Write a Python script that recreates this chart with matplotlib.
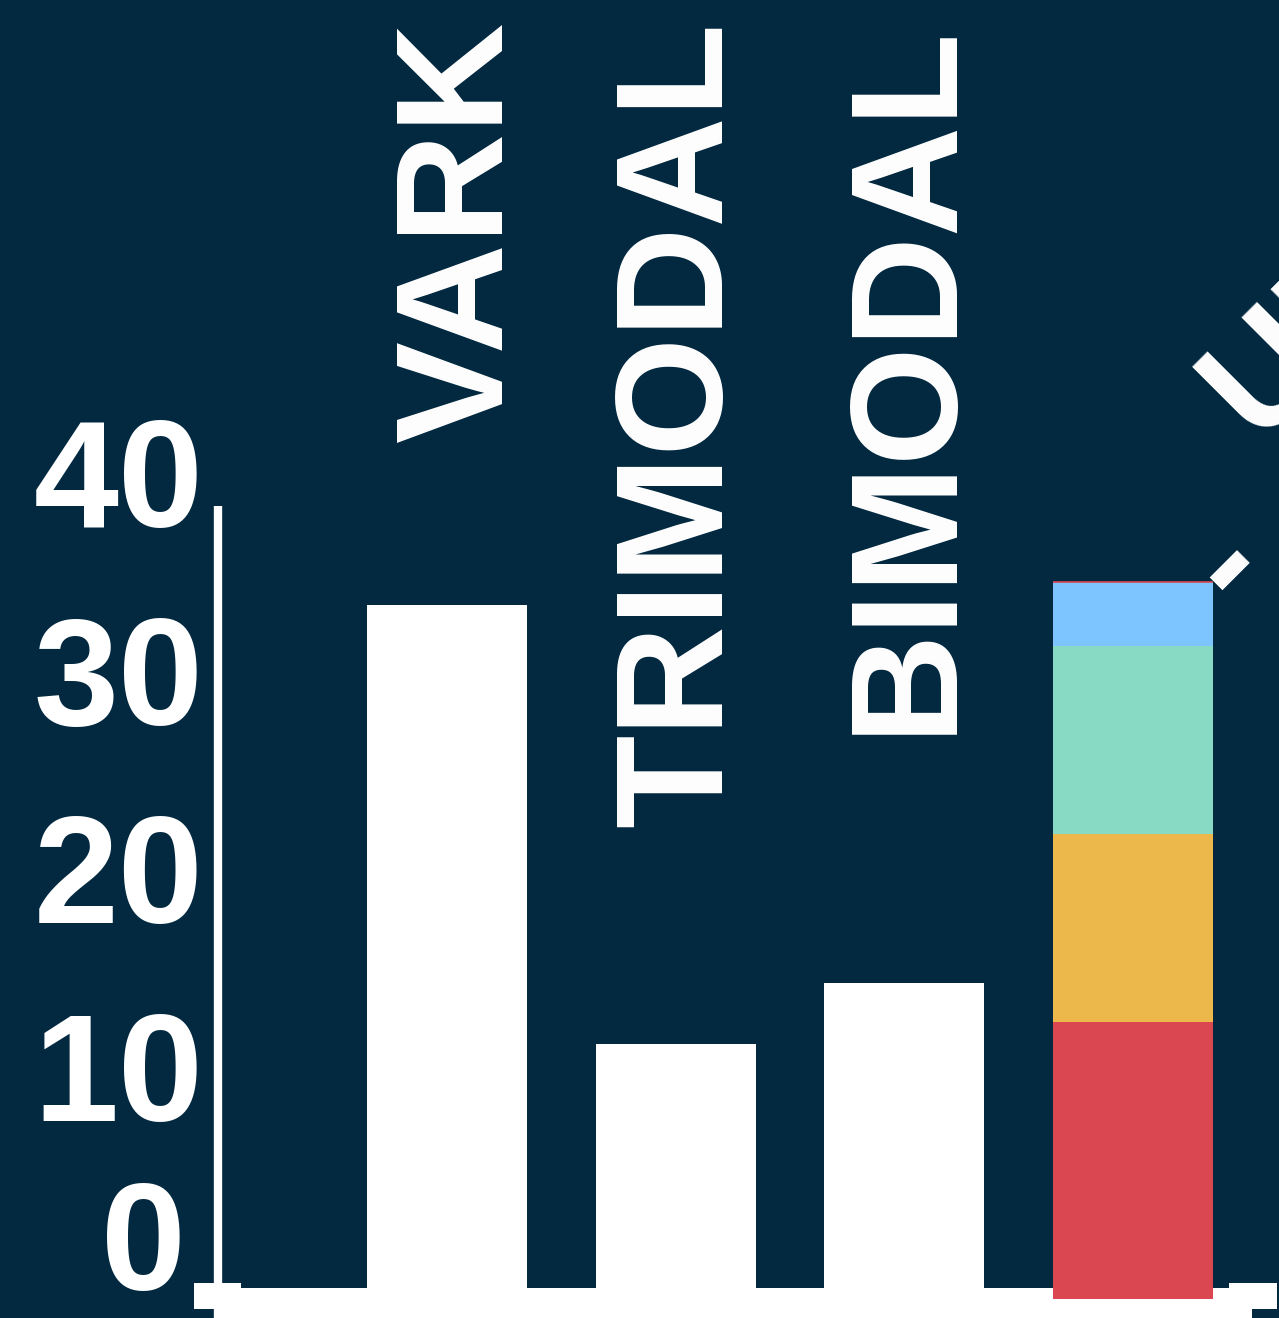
import matplotlib
matplotlib.use("Agg")
import matplotlib.pyplot as plt
from matplotlib.patches import Rectangle

# data
categories = ["VARK", "TRIMODAL", "BIMODAL"]
values = [34.5, 12.3, 15.4]
stack_label = "UNIMODAL"
stack_values = [14.0, 9.5, 9.5, 3.2]
stack_colors = ["#DB4751", "#ECB84C", "#88DAC4", "#7DC5FE"]
y_ticks = [0, 10, 20, 30, 40]

BG = "#022940"
FONT = ["Liberation Sans", "DejaVu Sans"]
FS = 110

W, H, DPI = 1279, 1318, 100
fig = plt.figure(figsize=(W / DPI, H / DPI), dpi=DPI, facecolor=BG)
ax = fig.add_axes([0, 0, 1, 1])
ax.set_facecolor(BG)
ax.axis("off")

# scale: 0 sits 30px above the bottom edge, 19.8 px per unit
px_per_unit = 19.8
ax.set_ylim(-30 / px_per_unit, (H - 30) / px_per_unit)
step = 228.7
ax.set_xlim(-447 / step, (W - 447) / step)

# white floor band with end caps
ax.add_patch(Rectangle((-1.0, -2), 4.52, 2, facecolor="white", edgecolor="none", zorder=1))
ax.add_patch(Rectangle((-1.105, -1.06), 0.205, 1.31, facecolor="white", edgecolor="none", zorder=1))
ax.add_patch(Rectangle((3.42, -1.06), 0.21, 1.31, facecolor="white", edgecolor="none", zorder=1))

# y axis line
ax.vlines(-1, -2, 39.5, color="white", linewidth=6, zorder=2)

# bars
x = list(range(len(categories)))
ax.bar(x, values, width=0.7, color="white", zorder=2)

xs = len(categories)
base = -0.56
for v, c in zip(stack_values, stack_colors):
    ax.bar(xs, v, bottom=base, width=0.7, color=c, zorder=3)
    base += v
ax.hlines(base, xs - 0.35, xs + 0.35, color=stack_colors[0], linewidth=1.2, zorder=4)

# y tick labels
for t in y_ticks:
    off = (-32, -2) if t == 0 else (-15, -31)
    ax.annotate(str(t), xy=(-1, t), xycoords="data", xytext=off,
                textcoords="offset pixels", ha="right", va="baseline",
                color="white", fontsize=FS, fontweight="bold", family=FONT)

# category labels, rotated, hanging from the top
label_dx = [55, 46, 43]
for i, name in enumerate(categories):
    ax.annotate(name, xy=(i, 0.984), xycoords=("data", "axes fraction"),
                xytext=(label_dx[i], 0), textcoords="offset pixels", rotation=90,
                rotation_mode="anchor", ha="right", va="baseline",
                color="white", fontsize=FS, fontweight="bold", family=FONT)

ax.annotate(stack_label, xy=(xs, 0.665), xycoords=("data", "axes fraction"),
            xytext=(125, 0), textcoords="offset pixels", rotation=45,
            rotation_mode="anchor", ha="left", va="baseline",
            color="white", fontsize=FS, fontweight="bold", family=FONT,
            annotation_clip=False)
ax.annotate("-", xy=(xs, 0.55), xycoords=("data", "axes fraction"),
            xytext=(123, 0), textcoords="offset pixels", rotation=45,
            rotation_mode="anchor", ha="center", va="baseline",
            color="white", fontsize=FS, fontweight="bold", family=FONT,
            annotation_clip=False)

fig.savefig("out.png", dpi=DPI, facecolor=BG)
